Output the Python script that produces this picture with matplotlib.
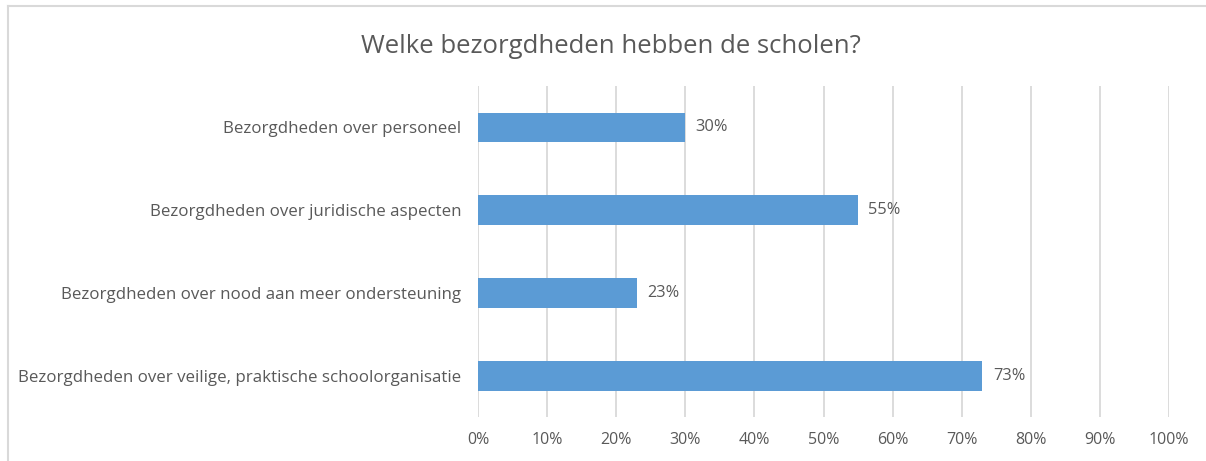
import matplotlib.pyplot as plt
from matplotlib.lines import Line2D
from matplotlib.ticker import PercentFormatter

plt.rcParams["font.family"] = ["Open Sans", "DejaVu Sans"]

# data (bottom to top as drawn)
categories = [
    "Bezorgdheden over veilige, praktische schoolorganisatie",
    "Bezorgdheden over nood aan meer ondersteuning",
    "Bezorgdheden over juridische aspecten",
    "Bezorgdheden over personeel",
]
values = [73, 23, 55, 30]
x_ticks = list(range(0, 101, 10))

BAR = "#5B9BD5"
GRID = "#D9D9D9"
TXT = "#595959"

fig = plt.figure(figsize=(12.06, 4.61), dpi=100)
ax = fig.add_axes([0.3964, 0.0954, 0.5729, 0.718])

ypos = range(len(categories))
bars = ax.barh(ypos, values, height=0.36, color=BAR, zorder=3)
for b, v in zip(bars, values):
    ax.text(b.get_width() + 1.5, b.get_y() + b.get_height() / 2, f"{v}%",
            va="center", ha="left", fontsize=11.8, color=TXT)

ax.set_xlim(0, 100)
ax.set_ylim(-0.5, len(categories) - 0.5)
ax.set_xticks(x_ticks)
ax.xaxis.set_major_formatter(PercentFormatter(decimals=0))
ax.set_yticks(list(ypos))
ax.set_yticklabels(categories, fontsize=12.2)
ax.tick_params(axis="both", length=0, colors=TXT)
ax.tick_params(axis="x", pad=11, labelsize=11.5)
ax.tick_params(axis="y", pad=12)
ax.grid(axis="x", color=GRID, lw=1.3, zorder=0)
for s in ax.spines.values():
    s.set_visible(False)

fig.text(0.5066, 0.9, "Welke bezorgdheden hebben de scholen?", ha="center",
         va="center", fontsize=18.5, color=TXT)

# chart frame
W, H = 1206, 461
fig.add_artist(Line2D([8 / W, 1205 / W], [1 - 6.5 / H, 1 - 6.5 / H],
                      color=GRID, lw=1.5, transform=fig.transFigure))
fig.add_artist(Line2D([8 / W, 8 / W], [0, 1 - 6.5 / H],
                      color=GRID, lw=1.5, transform=fig.transFigure))

fig.savefig("out.png", dpi=100)
